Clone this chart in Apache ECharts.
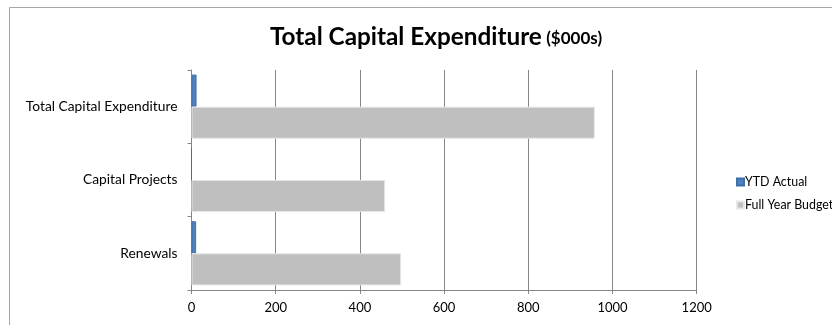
<!DOCTYPE html>
<html><head><meta charset="utf-8">
<script src="https://cdn.jsdelivr.net/npm/echarts@6/dist/echarts.min.js"></script>
<style>html,body{margin:0;padding:0;background:#fff}#c{width:832px;height:325px}</style>
</head><body><div id="c"></div>
<script>
const categories = ['Renewals', 'Capital Projects', 'Total Capital Expenditure'];
const ytdActual = [11, 0, 12];
const fullYearBudget = [498, 460, 958];
const xTicks = [0, 200, 400, 600, 800, 1000, 1200];

const chart = echarts.init(document.getElementById('c'));
const font = 'Lato, Carlito, Calibri, sans-serif';
chart.setOption({
  animation: false,
  backgroundColor: '#fff',
  textStyle: { fontFamily: font },
  title: {
    text: '{a|Total Capital Expenditure} {b|($000s)}',
    left: 431, top: 17, textAlign: 'center',
    textStyle: {
      rich: {
        a: { fontFamily: font, fontSize: 24.3, fontWeight: 'bold', color: '#000', lineHeight: 30 },
        b: { fontFamily: font, fontSize: 17, fontWeight: 'bold', color: '#000', lineHeight: 30, padding: [4,0,0,0] }
      }
    }
  },
  legend: {
    orient: 'vertical', left: 731, top: 171, itemGap: 11,
    itemWidth: 7, itemHeight: 7, icon: 'rect',
    data: ['YTD Actual', 'Full Year Budget'],
    textStyle: { fontFamily: font, fontSize: 12.4, color: '#000', padding: [0,0,0,-4] }
  },
  grid: { left: 191.5, right: 135.3, top: 70, bottom: 35 },
  xAxis: {
    type: 'value', min: xTicks[0], max: xTicks[xTicks.length - 1], interval: 200,
    axisLine: { show: true, lineStyle: { color: '#868686', width: 1 } },
    axisTick: { show: true, length: 4, lineStyle: { color: '#868686' } },
    splitLine: { show: true, lineStyle: { color: '#868686', width: 1 } },
    axisLabel: { fontFamily: font, fontSize: 13, color: '#000', margin: 11, formatter: v => String(v) }
  },
  yAxis: {
    type: 'category', data: categories,
    axisLine: { show: true, lineStyle: { color: '#868686', width: 1 } },
    axisTick: { show: true, length: 4, lineStyle: { color: '#868686' } },
    axisLabel: { fontFamily: font, fontSize: 13.8, color: '#000', margin: 14 }
  },
  series: [
    {
      name: 'YTD Actual', type: 'bar', data: ytdActual,
      barGap: '0%', barCategoryGap: '12.5%',
      itemStyle: { color: '#4F81BD', borderColor: '#3f6fa8', borderWidth: 1 }
    },
    {
      name: 'Full Year Budget', type: 'bar', data: fullYearBudget,
      barGap: '0%', barCategoryGap: '12.5%',
      itemStyle: { color: '#BFBFBF', borderColor: '#e6e6e6', borderWidth: 1 }
    }
  ],
  graphic: [
    { type: 'rect', shape: { x: 9.5, y: 7.5, width: 900, height: 400 },
      style: { fill: 'none', stroke: '#a6a6a6', lineWidth: 1 }, silent: true }
  ]
});
</script></body></html>
